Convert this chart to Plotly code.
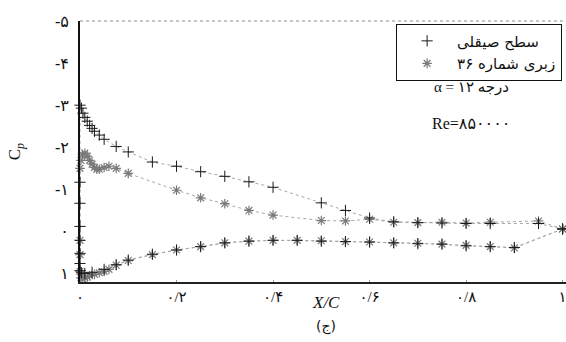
import plotly.graph_objects as go

# Pressure coefficient around the aerofoil at alpha = 12 deg, Re = 850000.
# Each series is traced from the lower-surface trailing edge, round the nose,
# to the upper-surface trailing edge.

# Smooth surface
smooth_x = [1.0, 0.9, 0.85, 0.8, 0.75, 0.7, 0.65, 0.6, 0.55, 0.5, 0.45, 0.4, 0.35,
            0.3, 0.25, 0.2, 0.15, 0.1, 0.075, 0.05, 0.025, 0.01, 0.003,
            0.0, 0.0, 0.0, 0.0, 0.0, 0.0, 0.0,
            0.0, 0.003, 0.006, 0.01, 0.015, 0.02, 0.025, 0.03, 0.04, 0.05, 0.075,
            0.1, 0.15, 0.2, 0.25, 0.3, 0.35, 0.4, 0.5, 0.55, 0.6, 0.65, 0.7, 0.75,
            0.8, 0.85, 0.95, 1.0]
smooth_cp = [-0.06, 0.38, 0.36, 0.34, 0.30, 0.29, 0.27, 0.25, 0.24, 0.23, 0.21, 0.21, 0.23,
             0.27, 0.36, 0.44, 0.54, 0.68, 0.79, 0.90, 0.97, 1.00, 0.98,
             0.93, 0.76, 0.52, 0.21, -0.12, -0.67, -1.17,
             -3.00, -2.93, -2.81, -2.71, -2.62, -2.52, -2.45, -2.38, -2.29, -2.19, -2.02,
             -1.89, -1.65, -1.55, -1.42, -1.31, -1.18, -1.05, -0.68, -0.50, -0.32, -0.23,
             -0.21, -0.20, -0.19, -0.19, -0.19, -0.06]

# Roughness No. 36
rough_x = [1.0, 0.9, 0.85, 0.8, 0.75, 0.7, 0.65, 0.6, 0.55, 0.5, 0.45, 0.4, 0.35,
           0.3, 0.25, 0.2, 0.15, 0.1, 0.075, 0.06, 0.05, 0.04, 0.03, 0.02, 0.015,
           0.01, 0.005, 0.002,
           0.0, 0.0, 0.0,
           0.0, 0.002, 0.005, 0.01, 0.015, 0.02, 0.025, 0.03, 0.035, 0.04, 0.05,
           0.06, 0.075, 0.1, 0.2, 0.25, 0.3, 0.35, 0.4, 0.5, 0.55, 0.6, 0.65, 0.7,
           0.75, 0.8, 0.85, 0.95, 1.0]
rough_cp = [-0.06, 0.39, 0.36, 0.33, 0.30, 0.28, 0.27, 0.25, 0.24, 0.22, 0.21, 0.21, 0.23,
            0.27, 0.36, 0.44, 0.55, 0.69, 0.80, 0.90, 0.95, 0.98, 1.02, 1.05, 1.08,
            1.10, 1.12, 1.10,
            0.95, 0.55, 0.21,
            -1.50, -1.69, -1.83, -1.86, -1.79, -1.69, -1.60, -1.52, -1.48, -1.48, -1.52,
            -1.55, -1.50, -1.38, -0.98, -0.80, -0.66, -0.50, -0.39, -0.26, -0.25, -0.29,
            -0.22, -0.21, -0.22, -0.20, -0.22, -0.25, -0.06]

series_names = ["سطح صیقلی", "زبری شماره ۳۶"]

x_ticks = [0, 0.2, 0.4, 0.6, 0.8, 1.0]
x_ticktext = ["۰", "۰/۲", "۰/۴", "۰/۶", "۰/۸", "۱"]
y_ticks = [-5, -4, -3, -2, -1, 0, 1]
y_ticktext = ["-۵", "-۴", "-۳", "-۲", "-۱", "۰", "۱"]

FONT = "Liberation Serif, DejaVu Sans"
FA_FONT = "DejaVu Sans"

smooth_marker = dict(symbol="cross-thin-open", size=8, color="#1a1a1a",
                     line=dict(color="#1a1a1a", width=1))
rough_marker = dict(symbol="asterisk-open", size=8, color="#7a7a7a",
                    line=dict(color="#7a7a7a", width=1.2))
dot_line = dict(color="#a8a8a8", width=1, dash="dot")

fig = go.Figure()
fig.add_trace(go.Scatter(x=rough_x, y=rough_cp, mode="lines+markers",
                         line=dot_line, marker=rough_marker,
                         showlegend=False, cliponaxis=False))
fig.add_trace(go.Scatter(x=smooth_x, y=smooth_cp, mode="lines+markers",
                         line=dot_line, marker=smooth_marker,
                         showlegend=False, cliponaxis=False))

# legend entries show the marker only
fig.add_trace(go.Scatter(x=[None], y=[None], mode="markers", marker=smooth_marker,
                         name=series_names[0]))
fig.add_trace(go.Scatter(x=[None], y=[None], mode="markers", marker=rough_marker,
                         name=series_names[1]))

fig.update_layout(
    width=566, height=342,
    margin=dict(l=80, r=0, t=21, b=60),
    paper_bgcolor="white", plot_bgcolor="white",
    font=dict(family=FONT, size=14, color="#111"),
    legend=dict(x=0.992, xanchor="right", y=0.99, yanchor="top",
                bgcolor="white", bordercolor="#111", borderwidth=1,
                font=dict(family=FA_FONT, size=15, color="#111"),
                itemwidth=50, tracegroupgap=0, traceorder="normal"),
    xaxis=dict(range=[0, 1.007], tickvals=x_ticks, ticktext=x_ticktext,
               showgrid=False, zeroline=False, showline=True,
               linecolor="#222", linewidth=1.5, ticks="inside", ticklen=2,
               tickcolor="#999", tickfont=dict(family=FONT, size=15),
               ticklabeloverflow="allow"),
    yaxis=dict(range=[1.2, -5], tickvals=y_ticks, ticktext=y_ticktext,
               showgrid=False, zeroline=False, showline=True,
               linecolor="#111", linewidth=2, ticks="", ticklabelstandoff=6,
               tickfont=dict(family=FONT, size=16)),
    shapes=[dict(type="line", xref="paper", yref="paper", x0=0, x1=1, y0=1, y1=1,
                 line=dict(color="#8c8c8c", width=1, dash="dot"))],
    annotations=[
        dict(text="α = ۱۲ درجه", xref="paper", yref="paper", x=0.805, y=0.745,
             showarrow=False, xanchor="center", yanchor="middle",
             font=dict(family=FONT, size=15)),
        dict(text="Re=۸۵۰۰۰۰", xref="paper", yref="paper", x=0.805, y=0.607,
             showarrow=False, xanchor="center", yanchor="middle",
             font=dict(family=FONT, size=16)),
        dict(text="<i>X/C</i>", xref="paper", yref="paper", x=0.506, y=-0.08,
             showarrow=False, xanchor="center", yanchor="middle",
             font=dict(family=FONT, size=17)),
        dict(text="(ج)", xref="paper", yref="paper", x=0.506, y=-0.169,
             showarrow=False, xanchor="center", yanchor="middle",
             font=dict(family=FA_FONT, size=14)),
        dict(text="C<sub><i>p</i></sub>", xref="paper", yref="paper", x=-0.132, y=0.5,
             textangle=-90, showarrow=False, xanchor="center", yanchor="middle",
             font=dict(family=FONT, size=17)),
    ],
)

fig.write_html("out.html")
